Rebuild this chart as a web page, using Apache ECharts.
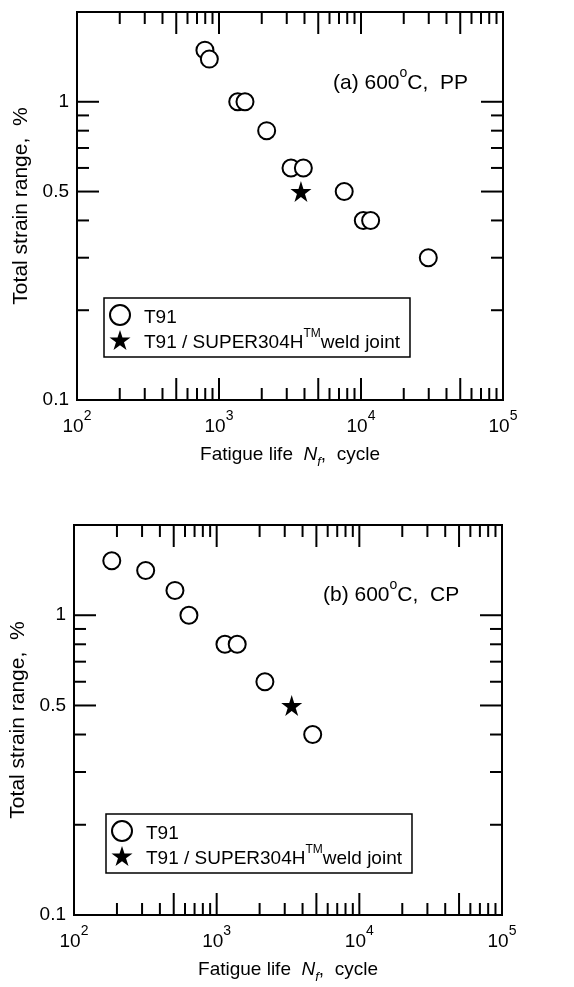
<!DOCTYPE html>
<html>
<head>
<meta charset="utf-8">
<script src="https://cdn.jsdelivr.net/npm/echarts@6/dist/echarts.min.js"></script>
<style>
  html, body { margin: 0; padding: 0; background: #fff; }
  #chart { width: 574px; height: 987px; }
</style>
</head>
<body>
<div id="chart"></div>
<script>
// axis ranges
var X_MIN = 100, X_MAX = 100000;
var Y_MIN = 0.1, Y_MAX = 2;

// tick marks (inside, all four sides)
var X_TICKS_LONG = [500, 1000, 5000, 10000, 50000];
var X_TICKS_SHORT = [200, 300, 400, 600, 700, 800, 900,
  2000, 3000, 4000, 6000, 7000, 8000, 9000,
  20000, 30000, 40000, 60000, 70000, 80000, 90000];
var Y_TICKS_LONG = [0.5, 1];
var Y_TICKS_SHORT = [0.2, 0.3, 0.4, 0.6, 0.7, 0.8, 0.9];
var Y_LABELS = [0.1, 0.5, 1];

// (a) 600C, PP
var PP_T91_N = [796, 855, 1355, 1524, 2166, 3214, 3927, 7617, 10380, 11690, 29780];
var PP_T91_S = [1.49, 1.39, 1.0, 1.0, 0.8, 0.6, 0.6, 0.5, 0.4, 0.4, 0.3];
var PP_WJ_N = [3776];
var PP_WJ_S = [0.5];

// (b) 600C, CP
var CP_T91_N = [184, 318, 510, 639, 1143, 1393, 2178, 4711];
var CP_T91_S = [1.52, 1.41, 1.21, 1.0, 0.8, 0.8, 0.6, 0.4];
var CP_WJ_N = [3357];
var CP_WJ_S = [0.5];

var T91 = 'T91';
var WJ = 'T91 / SUPER304H weld joint';
var FONT = '"Liberation Sans", Arial, sans-serif';
var STAR = 'path://M50,0 L61.2,34.5 L97.6,34.5 L68.2,55.9 L79.4,90.5 L50,69.1 L20.6,90.5 L31.8,55.9 L2.4,34.5 L38.8,34.5 Z';

function zip(xs, ys) {
  return xs.map(function(x, i) { return [x, ys[i]]; });
}

function tickData() {
  var d = [];
  X_TICKS_LONG.forEach(function(v) { d.push([v, Y_MIN, 0, 1]); });
  X_TICKS_SHORT.forEach(function(v) { d.push([v, Y_MIN, 0, 0]); });
  Y_TICKS_LONG.forEach(function(v) { d.push([X_MIN, v, 1, 1]); });
  Y_TICKS_SHORT.forEach(function(v) { d.push([X_MIN, v, 1, 0]); });
  return d;
}

function renderTick(params, api) {
  var len = api.value(3) ? 22 : 12;
  var st = { stroke: '#000', lineWidth: 2 };
  var a, b;
  if (api.value(2) === 0) {
    a = api.coord([api.value(0), Y_MIN]);
    b = api.coord([api.value(0), Y_MAX]);
    return { type: 'group', children: [
      { type: 'line', shape: { x1: a[0], y1: a[1], x2: a[0], y2: a[1] - len }, style: st },
      { type: 'line', shape: { x1: b[0], y1: b[1], x2: b[0], y2: b[1] + len }, style: st }
    ] };
  }
  a = api.coord([X_MIN, api.value(1)]);
  b = api.coord([X_MAX, api.value(1)]);
  return { type: 'group', children: [
    { type: 'line', shape: { x1: a[0], y1: a[1], x2: a[0] + len, y2: a[1] }, style: st },
    { type: 'line', shape: { x1: b[0], y1: b[1], x2: b[0] - len, y2: b[1] }, style: st }
  ] };
}

function renderYLabel(params, api) {
  var p = api.coord([X_MIN, api.value(1)]);
  return {
    type: 'text',
    x: p[0] - 8,
    y: p[1],
    style: {
      text: String(Y_LABELS[params.dataIndex]),
      align: 'right',
      verticalAlign: 'middle',
      fontSize: 19,
      fontFamily: FONT,
      fill: '#000'
    }
  };
}

function makeX(idx) {
  return {
    type: 'log', logBase: 10, gridIndex: idx, min: X_MIN, max: X_MAX,
    name: '{n|Fatigue life  }{i|N}{s|f}{n|,  cycle}',
    nameLocation: 'middle', nameGap: 45,
    nameTextStyle: {
      rich: {
        n: { fontSize: 19, fontFamily: FONT, color: '#000', lineHeight: 24, verticalAlign: 'top' },
        i: { fontSize: 19, fontFamily: FONT, fontStyle: 'italic', color: '#000', lineHeight: 24, verticalAlign: 'top' },
        s: { fontSize: 13, fontFamily: FONT, fontStyle: 'italic', color: '#000', lineHeight: 13, verticalAlign: 'bottom' }
      }
    },
    axisLine: { show: false },
    axisTick: { show: false },
    splitLine: { show: false },
    axisLabel: {
      margin: 9,
      formatter: function(v) {
        return '{b|10}{p|' + Math.round(Math.log10(v)) + '}';
      },
      rich: {
        b: { fontSize: 19, fontFamily: FONT, color: '#000', lineHeight: 27, verticalAlign: 'bottom' },
        p: { fontSize: 14, fontFamily: FONT, color: '#000', lineHeight: 14, verticalAlign: 'top' }
      }
    }
  };
}

function makeY(idx) {
  return {
    type: 'log', logBase: 10, gridIndex: idx, min: Y_MIN, max: Y_MAX,
    name: 'Total strain range,  %',
    nameLocation: 'middle', nameGap: 45,
    nameTextStyle: { fontSize: 21, fontFamily: FONT, color: '#000' },
    axisLine: { show: false },
    axisTick: { show: false },
    splitLine: { show: false },
    axisLabel: { show: false }
  };
}

function makeLegend(idx, left, top) {
  return {
    left: left, top: top, orient: 'vertical',
    selectedMode: false,
    data: [T91, WJ],
    borderColor: '#000', borderWidth: 1.5,
    padding: [6, 10, 5, 5],
    itemWidth: 22, itemHeight: 20, itemGap: 1,
    formatter: function(name) {
      return name === WJ ? '{t|T91 / SUPER304H}{sup|TM}{t|weld joint}' : '{t|' + name + '}';
    },
    textStyle: {
      fontSize: 19, fontFamily: FONT, color: '#000', padding: [0, 0, 0, 8],
      rich: {
        t: { fontSize: 19, fontFamily: FONT, color: '#000', lineHeight: 24, verticalAlign: 'bottom' },
        sup: { fontSize: 12, fontFamily: FONT, color: '#000', lineHeight: 11, verticalAlign: 'top' }
      }
    }
  };
}

function scatter(name, idx, data, symbol, size) {
  return {
    type: 'scatter', name: name, xAxisIndex: idx, yAxisIndex: idx,
    data: data, symbol: symbol, symbolSize: size,
    itemStyle: symbol === 'circle'
      ? { color: '#fff', borderColor: '#000', borderWidth: 2, opacity: 1 }
      : { color: '#000', borderColor: '#000', borderWidth: 0, opacity: 1 },
    z: 5
  };
}

var chart = echarts.init(document.getElementById('chart'), null, { renderer: 'canvas' });

chart.setOption({
  backgroundColor: '#fff',
  animation: false,
  grid: [
    { left: 77, top: 12, width: 426, height: 388, show: true, borderColor: '#000', borderWidth: 2 },
    { left: 74, top: 525, width: 428, height: 390, show: true, borderColor: '#000', borderWidth: 2 }
  ],
  xAxis: [makeX(0), makeX(1)],
  yAxis: [makeY(0), makeY(1)],
  legend: [makeLegend(0, 104, 298), makeLegend(1, 106, 814)],
  graphic: [
    {
      type: 'text', left: 333, top: 66,
      style: {
        text: '{t|(a) 600}{o|o}{t|C,  PP}',
        rich: {
          t: { fontSize: 21, fontFamily: FONT, fill: '#000', lineHeight: 28, verticalAlign: 'bottom' },
          o: { fontSize: 14, fontFamily: FONT, fill: '#000', lineHeight: 14, verticalAlign: 'top' }
        }
      }
    },
    {
      type: 'text', left: 323, top: 578,
      style: {
        text: '{t|(b) 600}{o|o}{t|C,  CP}',
        rich: {
          t: { fontSize: 21, fontFamily: FONT, fill: '#000', lineHeight: 28, verticalAlign: 'bottom' },
          o: { fontSize: 14, fontFamily: FONT, fill: '#000', lineHeight: 14, verticalAlign: 'top' }
        }
      }
    }
  ],
  series: [
    { type: 'custom', xAxisIndex: 0, yAxisIndex: 0, data: tickData(), renderItem: renderTick, clip: false, silent: true, z: 3 },
    { type: 'custom', xAxisIndex: 1, yAxisIndex: 1, data: tickData(), renderItem: renderTick, clip: false, silent: true, z: 3 },
    { type: 'custom', xAxisIndex: 0, yAxisIndex: 0, data: Y_LABELS.map(function(v) { return [X_MIN, v]; }), renderItem: renderYLabel, clip: false, silent: true },
    { type: 'custom', xAxisIndex: 1, yAxisIndex: 1, data: Y_LABELS.map(function(v) { return [X_MIN, v]; }), renderItem: renderYLabel, clip: false, silent: true },
    scatter(T91, 0, zip(PP_T91_N, PP_T91_S), 'circle', 17),
    scatter(WJ, 0, zip(PP_WJ_N, PP_WJ_S), STAR, 21),
    scatter(T91, 1, zip(CP_T91_N, CP_T91_S), 'circle', 17),
    scatter(WJ, 1, zip(CP_WJ_N, CP_WJ_S), STAR, 21)
  ]
});
</script>
</body>
</html>
